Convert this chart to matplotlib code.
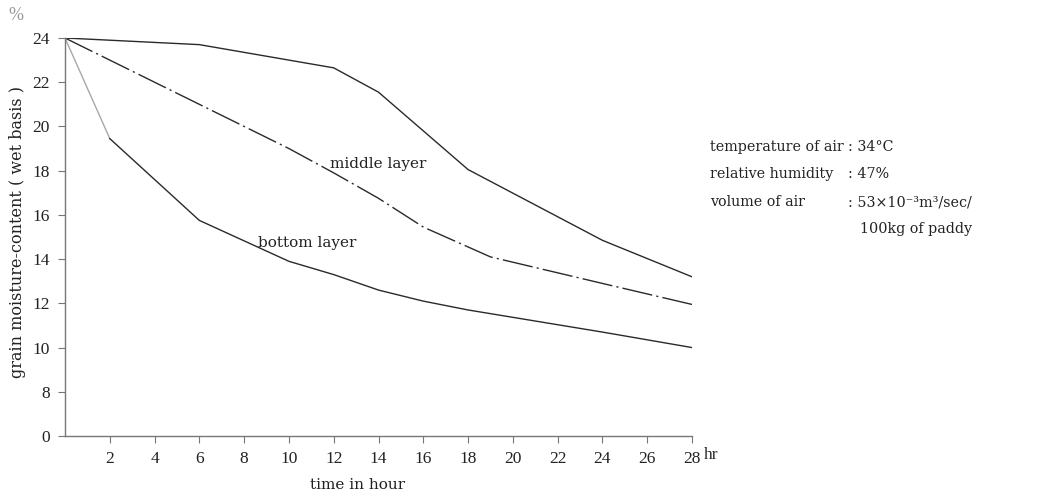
import matplotlib
matplotlib.use("Agg")
import matplotlib.pyplot as plt

# ---- data ----
top_x = [0, 6, 10, 12, 14, 18, 24, 28]
top_y = [24.0, 23.7, 23.0, 22.65, 21.55, 18.05, 14.85, 13.2]

middle_x = [0, 6, 10, 12, 14, 16, 19, 24, 28]
middle_y = [24.0, 21.0, 19.0, 17.9, 16.75, 15.45, 14.1, 12.9, 11.95]

bottom_x = [0, 2, 6, 10, 12, 14, 16, 18, 24, 28]
bottom_y = [24.0, 19.45, 15.75, 13.9, 13.3, 12.6, 12.1, 11.7, 10.7, 10.0]

x_ticks = [2, 4, 6, 8, 10, 12, 14, 16, 18, 20, 22, 24, 26, 28]
y_tick_labels = [0, 8, 10, 12, 14, 16, 18, 20, 22, 24]

conditions = [
    ("temperature of air", ": 34°C"),
    ("relative humidity", ": 47%"),
    ("volume of air", ": 53×10⁻³m³/sec/"),
    ("", "100kg of paddy"),
]

# broken y axis: "0" is drawn one step below 8
AXIS_FLOOR = 6
def ypos(v):
    return v if v >= 8 else AXIS_FLOOR

SERIF = ["Liberation Serif", "DejaVu Serif"]
WIDE = ["DejaVu Serif"]
plt.rcParams["font.family"] = SERIF

W, H = 1047, 497
fig = plt.figure(figsize=(W / 100, H / 100), dpi=100)
ax = fig.add_axes([65 / W, 1 - 436 / H, (692 - 65) / W, (436 - 38) / H])
ax.set_xlim(0, 28)
ax.set_ylim(AXIS_FLOOR, 24)

line_col = "#2a2a2a"
ax.plot(top_x, top_y, color=line_col, lw=1.0)
ax.plot(middle_x, middle_y, color=line_col, lw=1.0, dashes=(22, 3, 1.5, 3))
ax.plot(bottom_x[:2], bottom_y[:2], color="#a8a8a8", lw=1.0)
ax.plot(bottom_x[1:], bottom_y[1:], color=line_col, lw=1.0)

for s in ["top", "right"]:
    ax.spines[s].set_visible(False)
for s in ["left", "bottom"]:
    ax.spines[s].set_color("#777777")
    ax.spines[s].set_linewidth(1.0)

ax.set_xticks(x_ticks)
ax.set_xticklabels([str(v) for v in x_ticks])
ax.set_yticks([ypos(v) for v in y_tick_labels])
ax.set_yticklabels([str(v) for v in y_tick_labels])
ax.tick_params(axis="both", direction="out", length=5, width=0.8,
               color="#777777", labelsize=12.5, labelcolor="#222222")
for lab in ax.get_xticklabels() + ax.get_yticklabels():
    lab.set_family(SERIF)
ax.tick_params(axis="y", pad=6)
ax.tick_params(axis="x", pad=6)

txt = dict(fontsize=11, color="#222222", family=WIDE)
side = dict(fontsize=10.3, color="#222222", family=WIDE)

fig.text(358 / W, 1 - 485 / H, "time in hour", ha="center", va="center", **txt)
fig.text(18 / W, 1 - 232 / H, "grain moisture-content ( wet basis )",
         rotation=90, ha="center", va="center", fontsize=11.5,
         color="#222222", family=WIDE)

fig.text(16 / W, 1 - 15 / H, "%", fontsize=13, color="#999999",
         ha="center", va="center")
fig.text(704 / W, 1 - 455 / H, "hr", fontsize=12.5, color="#222222",
         ha="left", va="center")

fig.text(330 / W, 1 - 164 / H, "middle layer", ha="left", va="center", **txt)
fig.text(258 / W, 1 - 243 / H, "bottom layer", ha="left", va="center", **txt)

row_y = [147, 174, 202, 229]
for (lab, val), yy in zip(conditions, row_y):
    if lab:
        fig.text(710 / W, 1 - yy / H, lab, ha="left", va="center", **side)
    fig.text((848 if lab else 860) / W, 1 - yy / H, val,
             ha="left", va="center", **side)

fig.savefig("out.png", dpi=100, facecolor="white")
